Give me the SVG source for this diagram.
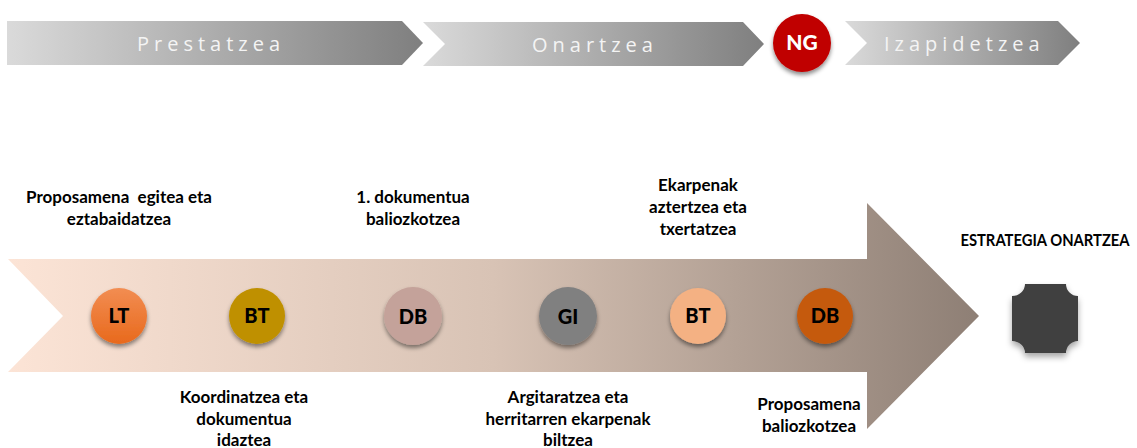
<svg xmlns="http://www.w3.org/2000/svg" width="1137" height="448" viewBox="0 0 1137 448">
<defs>
<linearGradient id="gGrey" x1="0" y1="0" x2="1" y2="0">
<stop offset="0" stop-color="#dadada"/>
<stop offset="1" stop-color="#7f7f7f"/>
</linearGradient>
<linearGradient id="gBig" x1="0" y1="0" x2="1" y2="0">
<stop offset="0" stop-color="#fce4d6"/>
<stop offset="0.5" stop-color="#d8c3b5"/>
<stop offset="1" stop-color="#8e7f75"/>
</linearGradient>
<linearGradient id="gLT" x1="0" y1="0" x2="0" y2="1">
<stop offset="0" stop-color="#f28d52"/>
<stop offset="1" stop-color="#e8691c"/>
</linearGradient>
<filter id="sh" x="-30%" y="-30%" width="160%" height="170%">
<feDropShadow dx="0" dy="3" stdDeviation="2" flood-color="#000" flood-opacity="0.45"/>
</filter>
<filter id="sh2" x="-30%" y="-30%" width="160%" height="170%">
<feDropShadow dx="0" dy="4" stdDeviation="3" flood-color="#000" flood-opacity="0.35"/>
</filter>
</defs>
<style>
.phase{font-family:"Open Sans","DejaVu Sans",sans-serif;font-size:20px;fill:#f4f4f4;letter-spacing:5px}
.lbl{font-family:Lato,"Liberation Sans",sans-serif;font-weight:bold;font-size:17px;fill:#000;text-anchor:middle;white-space:pre}
.cl{font-family:Lato,"Liberation Sans",sans-serif;font-weight:900;font-size:20px;fill:#000;text-anchor:middle}
</style>

<g id="phase-prestatzea">
<path d="M7,21 L402,21 L423,43 L402,65 L7,65 Z" fill="url(#gGrey)"/>
<text class="phase" x="137" y="51">Prestatzea</text>
</g>
<g id="phase-onartzea">
<path d="M423,22 L743,22 L764,44 L743,66 L423,66 L445,44 Z" fill="url(#gGrey)"/>
<text class="phase" x="532" y="52">Onartzea</text>
</g>
<g id="node-ng">
<circle cx="802" cy="43" r="29" fill="#c00000" filter="url(#sh)"/>
<text x="802" y="50" style="font-family:Lato,'Liberation Sans',sans-serif;font-weight:900;font-size:21px;fill:#fff;text-anchor:middle">NG</text>
</g>
<g id="phase-izapidetzea">
<path d="M845,21 L1058,21 L1080,43 L1058,65 L845,65 L867,43 Z" fill="url(#gGrey)"/>
<text class="phase" x="884" y="51">Izapidetzea</text>
</g>

<g id="timeline-arrow">
<path d="M8,259 L867,259 L867,203 L979,316 L867,429 L867,372 L8,372 L63,316 Z" fill="url(#gBig)"/>
</g>

<g id="node-lt">
<circle cx="119" cy="316" r="28" fill="url(#gLT)" filter="url(#sh)"/>
<text class="cl" x="119" y="323">LT</text>
</g>
<g id="node-bt1">
<circle cx="257" cy="316" r="28" fill="#bf9000" filter="url(#sh)"/>
<text class="cl" x="257" y="323">BT</text>
</g>
<g id="node-db1">
<circle cx="413" cy="316" r="29" fill="#c4a29a" filter="url(#sh)"/>
<text class="cl" x="413" y="324">DB</text>
</g>
<g id="node-gi">
<circle cx="568" cy="316" r="29" fill="#808080" filter="url(#sh)"/>
<text class="cl" x="568" y="324">GI</text>
</g>
<g id="node-bt2">
<circle cx="698" cy="316" r="28" fill="#f4b183" filter="url(#sh)"/>
<text class="cl" x="698" y="323">BT</text>
</g>
<g id="node-db2">
<circle cx="825" cy="316" r="28" fill="#c55a11" filter="url(#sh)"/>
<text class="cl" x="825" y="323">DB</text>
</g>

<g id="node-final">
<path d="M1025,284 L1066,284 A12,12 0 0 0 1078,296 L1078,341 A12,12 0 0 0 1066,353 L1025,353 A13,12 0 0 0 1012,341 L1012,296 A13,12 0 0 0 1025,284 Z" fill="#404040" filter="url(#sh2)"/>
<text class="lbl" transform="translate(1045,246) scale(0.87,1)" x="0" y="0">ESTRATEGIA ONARTZEA</text>
</g>

<g id="labels">
<text class="lbl" x="119" y="203">Proposamena  egitea eta</text>
<text class="lbl" x="119" y="225">eztabaidatzea</text>
<text class="lbl" x="413" y="203">1. dokumentua</text>
<text class="lbl" x="413" y="225">baliozkotzea</text>
<text class="lbl" x="698" y="191">Ekarpenak</text>
<text class="lbl" x="698" y="213">aztertzea eta</text>
<text class="lbl" x="698" y="235">txertatzea</text>
<text class="lbl" x="244" y="403">Koordinatzea eta</text>
<text class="lbl" x="244" y="425">dokumentua</text>
<text class="lbl" x="244" y="446">idaztea</text>
<text class="lbl" x="568" y="403">Argitaratzea eta</text>
<text class="lbl" x="568" y="425">herritarren ekarpenak</text>
<text class="lbl" x="568" y="446">biltzea</text>
<text class="lbl" x="809" y="410">Proposamena</text>
<text class="lbl" x="809" y="432">baliozkotzea</text>
</g>
<g id="connectors"/>
</svg>
